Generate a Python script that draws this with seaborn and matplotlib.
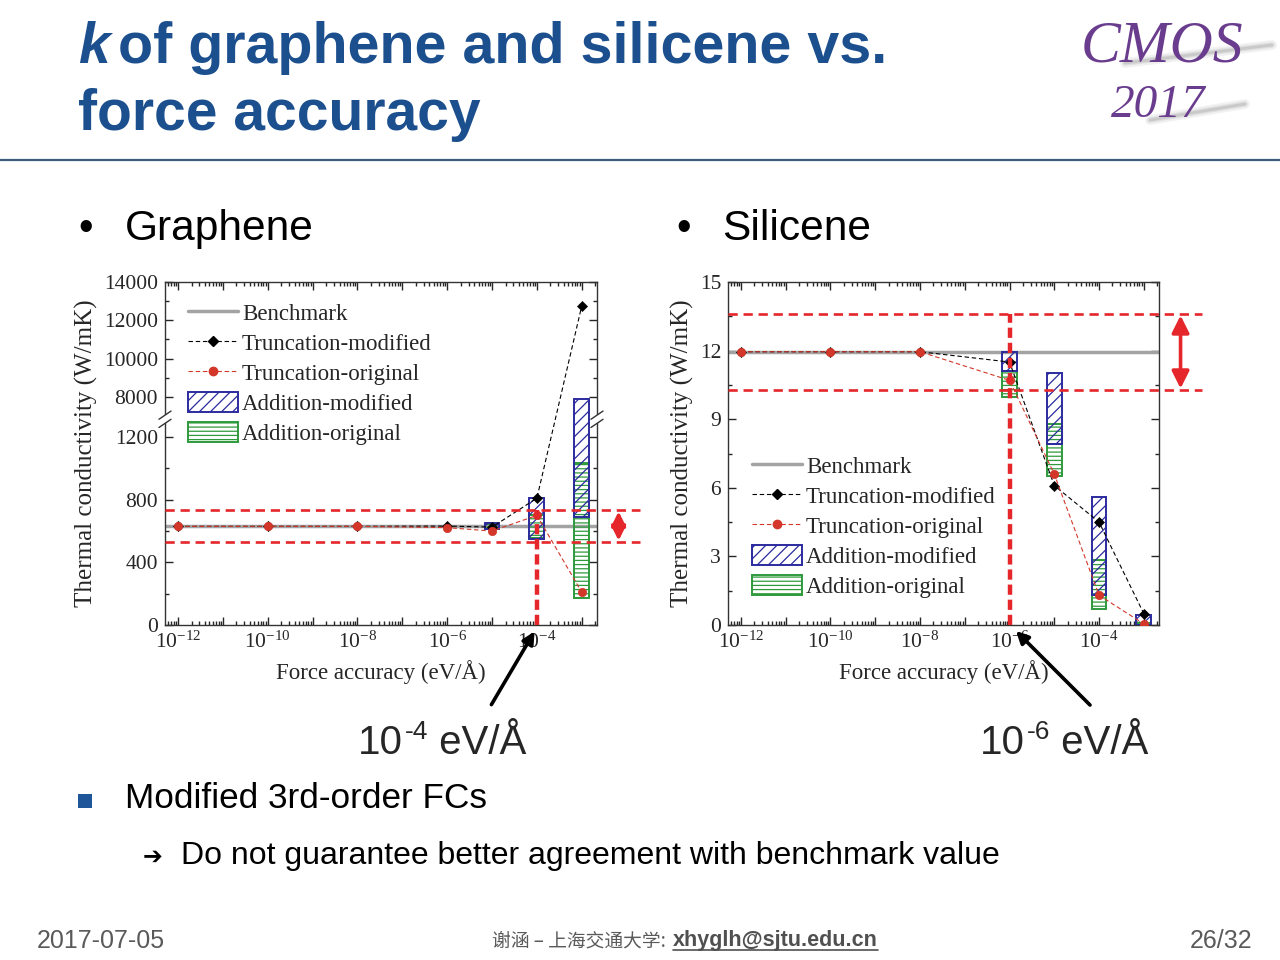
import numpy as np
import matplotlib
matplotlib.use("Agg")
import matplotlib.pyplot as plt
import seaborn as sns
from matplotlib.lines import Line2D
from matplotlib.patches import Patch, FancyArrowPatch, Rectangle
from matplotlib.ticker import FixedLocator, FuncFormatter, LogLocator, NullFormatter

# ---------------- data ----------------
force_acc = [1e-12, 1e-10, 1e-8, 1e-6, 1e-5, 1e-4, 1e-3]
x_label_exps = [-12, -10, -8, -6, -4]

# Graphene
g_benchmark = 630
g_trunc_mod = [630, 630, 630, 632, 625, 810, 12750]
g_trunc_orig = [630, 630, 630, 622, 600, 700, 210]
g_box_acc = [1e-5, 1e-4, 1e-3]
g_add_mod_low = [615, 550, 690]
g_add_mod_high = [650, 810, 7900]
g_add_orig_low = [612, 555, 170]
g_add_orig_high = [645, 700, 1035]
g_band = [530, 734]
g_target = 1e-4
g_yticks = [0, 400, 800, 1200, 8000, 10000, 12000, 14000]
g_yminor = [200, 600, 1000, 9000, 11000, 13000]

# Silicene
s_benchmark = 11.95
s_trunc_mod = [11.95, 11.95, 11.95, 11.5, 6.1, 4.5, 0.5]
s_trunc_orig = [11.95, 11.95, 11.95, 10.7, 6.6, 1.3, 0.05]
s_box_acc = [1e-6, 1e-5, 1e-4, 1e-3]
s_add_mod_low = [11.1, 7.9, 1.3, 0.0]
s_add_mod_high = [11.95, 11.0, 5.6, 0.45]
s_add_orig_low = [9.95, 6.5, 0.7, 0.0]
s_add_orig_high = [11.1, 8.8, 2.85, 0.1]
s_band = [10.28, 13.6]
s_target = 1e-6
s_yticks = [0, 3, 6, 9, 12, 15]

legend_labels = ["Benchmark", "Truncation-modified", "Truncation-original",
                 "Addition-modified", "Addition-original"]

# ---------------- style ----------------
sns.set_style("ticks")
plt.rcParams["font.family"] = ["Liberation Serif", "DejaVu Serif"]
plt.rcParams["mathtext.fontset"] = "custom"
plt.rcParams["mathtext.rm"] = "Liberation Serif"
plt.rcParams["mathtext.it"] = "Liberation Serif:italic"
plt.rcParams["mathtext.bf"] = "Liberation Serif:bold"
plt.rcParams["mathtext.sf"] = "Liberation Sans"
plt.rcParams["hatch.linewidth"] = 0.9
plt.rcParams["axes.linewidth"] = 1.0

SANS = ["Liberation Sans", "DejaVu Sans"]
TITLE_BLUE = "#1B4F8E"
BLUE = "#2B2B9E"
GREEN = "#2E9A3C"
RED = "#E5262B"
DOT_RED = "#D2372A"
GRAY = "#A3A3A3"
LOGO = "#6A3C8E"

W, H = 1280, 960
fig = plt.figure(figsize=(12.8, 9.6), dpi=100)
fig.patch.set_facecolor("white")


def fx(x):
    return x / W


def fy(y):
    return 1 - y / H


# ---------------- broken y-scale for graphene ----------------
B1, B2, R, EPS = 1314.0, 6830.0, 0.1222, 1e-4
U2 = B1 + (B2 - B1) * EPS


def fwd(y):
    y = np.asarray(y, dtype=float)
    return np.where(y <= B1, y, np.where(y < B2, B1 + (y - B1) * EPS, U2 + (y - B2) * R))


def inv(u):
    u = np.asarray(u, dtype=float)
    return np.where(u <= B1, u, np.where(u < U2, B1 + (u - B1) / EPS, B2 + (u - U2) / R))


axG = fig.add_axes([fx(165), fy(625), (597 - 165) / W, (625 - 282) / H])
axS = fig.add_axes([fx(728), fy(625), (1159 - 728) / W, (625 - 282) / H])

HW = 0.165  # half width of boxes, decades


def draw_panel(ax, bench, tmod, torig, bacc, mlo, mhi, olo, ohi, band, target, arrow_ms):
    ax.set_xscale("log")
    ax.axhline(bench, color=GRAY, lw=2.5, zorder=2)
    lefts = [a * 10 ** -HW for a in bacc]
    widths = [a * 10 ** HW - a * 10 ** -HW for a in bacc]
    ax.bar(lefts, [h - l for l, h in zip(olo, ohi)], width=widths, bottom=olo,
           align="edge", facecolor="none", edgecolor=GREEN, hatch="----",
           linewidth=1.4, zorder=3)
    ax.bar(lefts, [h - l for l, h in zip(mlo, mhi)], width=widths, bottom=mlo,
           align="edge", facecolor="none", edgecolor=BLUE, hatch="///",
           linewidth=1.4, zorder=3)
    sns.lineplot(x=force_acc, y=tmod, ax=ax, color="black", marker="D",
                 markersize=5.5, markeredgecolor="black", markeredgewidth=0.5,
                 linewidth=0.8, linestyle=(0, (4, 2.5)), zorder=4, legend=False)
    sns.lineplot(x=force_acc, y=torig, ax=ax, color=DOT_RED, marker="o",
                 markersize=6, markeredgecolor=DOT_RED, markeredgewidth=0.5,
                 linewidth=0.8, linestyle=(0, (4, 2.5)), zorder=4.5, legend=False)
    for b in band:
        ax.axhline(b, xmin=0, xmax=1.1, color=RED, lw=1.9,
                   dashes=(3.5, 2.2), clip_on=False, zorder=6)
    ax.plot([target, target], [0, band[1]], color=RED, lw=3.2,
            dashes=(2.3, 1.1), clip_on=False, zorder=6)
    ax.set_xlim(10 ** -12.29, 10 ** -2.66)
    ax.xaxis.set_major_locator(LogLocator(base=10, numticks=30))
    ax.xaxis.set_minor_locator(LogLocator(base=10, subs=np.arange(2, 10), numticks=30))
    ax.xaxis.set_minor_formatter(NullFormatter())

    def xfmt(v, pos):
        e = int(round(np.log10(v)))
        return r"$\mathrm{10^{%d}}$" % e if e in x_label_exps else ""

    ax.xaxis.set_major_formatter(FuncFormatter(xfmt))
    ax.tick_params(which="both", direction="in", top=True, right=True,
                   labelsize=15.5, width=1.0, pad=5)
    ax.tick_params(which="major", length=6)
    ax.tick_params(which="minor", length=3)
    ax.set_xlabel("Force accuracy (eV/Å)", fontsize=16.5, labelpad=5)
    ax.set_ylabel("Thermal conductivity (W/mK)", fontsize=18, labelpad=4)
    for sp in ax.spines.values():
        sp.set_linewidth(1.0)
        sp.set_color("#333333")
    # double-headed arrow showing the band
    ax.annotate("", xy=(1.0 + 0.05, band[1]), xytext=(1.0 + 0.05, band[0]),
                xycoords=("axes fraction", "data"), textcoords=("axes fraction", "data"),
                arrowprops=dict(arrowstyle="<|-|>", color=RED, lw=2.6,
                                mutation_scale=arrow_ms, shrinkA=1, shrinkB=1),
                annotation_clip=False, zorder=7)


# Graphene
axG.set_yscale("function", functions=(fwd, inv))
draw_panel(axG, g_benchmark, g_trunc_mod, g_trunc_orig, g_box_acc,
           g_add_mod_low, g_add_mod_high, g_add_orig_low, g_add_orig_high,
           g_band, g_target, 21)
axG.set_ylim(0, 14000)
axG.yaxis.set_major_locator(FixedLocator(g_yticks))
axG.yaxis.set_minor_locator(FixedLocator(g_yminor))
axG.yaxis.set_major_formatter(FuncFormatter(lambda v, p: "%d" % v))

# break marks on graphene y axis
ybreak = fwd(B1 + 1) / fwd(14000)
for xa in (0.0, 1.0):
    axG.add_patch(Rectangle((xa - 0.012, ybreak - 0.012), 0.024, 0.024,
                            transform=axG.transAxes, facecolor="white",
                            edgecolor="none", clip_on=False, zorder=8))
    for dy in (-0.012, 0.012):
        axG.add_line(Line2D([xa - 0.014, xa + 0.014], [ybreak + dy - 0.012, ybreak + dy + 0.012],
                            transform=axG.transAxes, color="#333333", lw=1.0,
                            clip_on=False, zorder=9))

# Silicene
draw_panel(axS, s_benchmark, s_trunc_mod, s_trunc_orig, s_box_acc,
           s_add_mod_low, s_add_mod_high, s_add_orig_low, s_add_orig_high,
           s_band, s_target, 26)
axS.set_ylim(0, 15)
axS.yaxis.set_major_locator(FixedLocator(s_yticks))
axS.yaxis.set_minor_locator(FixedLocator([1.5, 4.5, 7.5, 10.5, 13.5]))
axS.yaxis.set_major_formatter(FuncFormatter(lambda v, p: "%d" % v))

# legends
handles = [
    Line2D([], [], color=GRAY, lw=2.5),
    Line2D([], [], color="black", lw=0.8, ls=(0, (4, 2.5)), marker="D", markersize=5.5),
    Line2D([], [], color=DOT_RED, lw=0.8, ls=(0, (4, 2.5)), marker="o", markersize=6),
    Patch(facecolor="white", edgecolor=BLUE, hatch="///", lw=1.4),
    Patch(facecolor="white", edgecolor=GREEN, hatch="----", lw=1.4),
]
for anchor in ((172, 286), (736, 439)):
    fig.legend(handles, legend_labels, loc="upper left",
               bbox_to_anchor=(fx(anchor[0]), fy(anchor[1])), frameon=False,
               fontsize=16.5, handlelength=2.2, handleheight=1.0,
               handletextpad=0.15, labelspacing=0.3, borderpad=0.2)

# ---------------- slide decoration ----------------
fig.text(fx(78), fy(63), "k", fontsize=41, fontweight="bold", fontstyle="italic",
         family=SANS, color=TITLE_BLUE, va="baseline")
fig.text(fx(118), fy(63), "of graphene and silicene vs.", fontsize=41.3,
         fontweight="bold", family=SANS, color=TITLE_BLUE, va="baseline")
fig.text(fx(78), fy(130), "force accuracy", fontsize=41, fontweight="bold",
         family=SANS, color=TITLE_BLUE, va="baseline")
fig.add_artist(Line2D([0, 1], [fy(160), fy(160)], transform=fig.transFigure,
                      color="#3D5B7A", lw=1.6))

# CMOS logo (text with soft grey streaks)
for (x0, x1, y0, y1) in ((1125, 1272, 63, 45), (1150, 1245, 120, 104)):
    for lw_, al in ((7, 0.12), (4, 0.18), (2, 0.25)):
        fig.add_artist(Line2D([fx(x0), fx(x1)], [fy(y0), fy(y1)], transform=fig.transFigure,
                              color="#8C8C8C", lw=lw_, alpha=al, solid_capstyle="round"))
fig.text(fx(1162), fy(62), "CMOS", fontsize=43, fontstyle="italic",
         family=["Liberation Serif"], color=LOGO, ha="center", va="baseline")
fig.text(fx(1158), fy(117), "2017", fontsize=34, fontstyle="italic",
         family=["Liberation Serif"], color=LOGO, ha="center", va="baseline")

# section bullets
for bx, tx, label in ((78, 125, "Graphene"), (676, 722, "Silicene")):
    fig.text(fx(bx), fy(240), "•", fontsize=30, family=SANS, color="black", va="baseline")
    fig.text(fx(tx), fy(240), label, fontsize=30.6, family=SANS, color="black", va="baseline")

# black pointer arrows
for tail, head in (((490, 707), (536, 629)), ((1092, 707), (1014, 629))):
    fig.add_artist(FancyArrowPatch((fx(tail[0]), fy(tail[1])), (fx(head[0]), fy(head[1])),
                                   transform=fig.transFigure, arrowstyle="-|>",
                                   mutation_scale=18, lw=2.6, color="black", zorder=10))

# "10-x eV/Å" labels built from pieces (short hyphen in the exponent)
renderer = fig.canvas.get_renderer()


def power_label(x_left, y_base, exponent):
    t1 = fig.text(fx(x_left), fy(y_base), "10", fontsize=29, family=SANS, va="baseline")
    bb = t1.get_window_extent(renderer)
    t2 = fig.text(bb.x1 / W + 2 / W, fy(y_base - 15), "-%d" % exponent, fontsize=19,
                  family=SANS, va="baseline")
    bb2 = t2.get_window_extent(renderer)
    fig.text(bb2.x1 / W, fy(y_base), " eV/Å", fontsize=29, family=SANS, va="baseline")


power_label(358, 754, 4)
power_label(980, 754, 6)

# bottom bullets
fig.add_artist(Rectangle((fx(78), fy(808)), 14 / W, 14 / H, transform=fig.transFigure,
                         facecolor="#1F569A", edgecolor="none"))
fig.text(fx(125), fy(808), "Modified 3rd-order FCs", fontsize=25.3, family=SANS,
         color="black", va="baseline")
fig.text(fx(143), fy(864), "➔", fontsize=17, family=["DejaVu Sans"], color="black",
         va="baseline")
fig.text(fx(181), fy(864), "Do not guarantee better agreement with benchmark value",
         fontsize=23, family=SANS, color="black", va="baseline")

# footer
fig.text(fx(37), fy(948), "2017-07-05", fontsize=18, family=SANS, color="#5A5A5A",
         va="baseline")
fig.text(fx(1252), fy(948), "26/32", fontsize=18, family=SANS, color="#5A5A5A",
         ha="right", va="baseline")
fig.text(fx(670), fy(946), "谢涵 – 上海交通大学: ", fontsize=13.5,
         family=["Noto Sans CJK SC", "DejaVu Sans"], color="#5A5A5A",
         ha="right", va="baseline")
email = fig.text(fx(673), fy(946), "xhyglh@sjtu.edu.cn", fontsize=15.5, family=SANS,
                 fontweight="bold", color="#505050", va="baseline")
bb = email.get_window_extent(renderer)
fig.add_artist(Line2D([bb.x0 / W, bb.x1 / W], [fy(950), fy(950)],
                      transform=fig.transFigure, color="#505050", lw=1.2))

fig.savefig("out.png", dpi=100, facecolor="white")
